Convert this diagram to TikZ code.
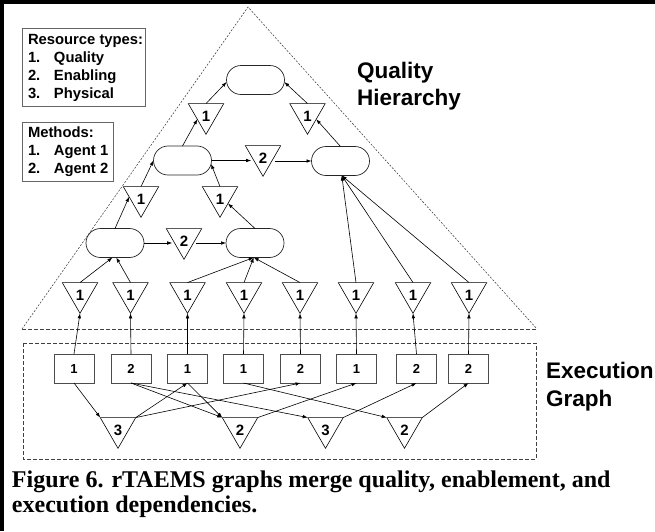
\documentclass[tikz,border=0pt]{standalone}
\usepackage{fontspec}
\setmainfont{Liberation Serif}
\newfontfamily\hvfont{Liberation Sans}
\usetikzlibrary{shapes.geometric,shapes.misc,arrows.meta,calc}

\begin{document}
\begin{tikzpicture}[x=1pt,y=-1pt,
  every node/.style={inner sep=0pt, outer sep=0pt},
  edge/.style={line width=0.6pt, draw=black, -{Latex[length=5pt,width=3.6pt]}},
  qnode/.style={rounded rectangle, draw=black!85, line width=0.7pt,
    minimum width=58pt, minimum height=29pt},
  tri/.style={regular polygon, regular polygon sides=3, shape border rotate=180,
    draw=black, line width=0.6pt, minimum size=39.3pt,
    text height=14.5pt, text depth=0pt,
    font=\hvfont\bfseries\fontsize{15}{15}\selectfont},
  mbox/.style={rectangle, draw=black!70, line width=0.8pt,
    minimum width=40pt, minimum height=29pt,
    text height=10pt, text depth=0pt,
    font=\hvfont\bfseries\fontsize{13}{13}\selectfont},
  legbox/.style={draw=black!60, line width=0.9pt},
  legtext/.style={anchor=base west, font=\hvfont\bfseries\fontsize{14.8}{17}\selectfont},
  areatext/.style={anchor=base west, font=\hvfont\bfseries\fontsize{22.5}{26}\selectfont},
  captext/.style={anchor=base west, font=\bfseries\fontsize{24}{26}\selectfont},
  finedash/.style={draw=black!80, line width=0.5pt, dash pattern=on 2pt off 1.5pt},
  boxdash/.style={draw=black!75, line width=0.6pt, dash pattern=on 4pt off 2pt}]

\useasboundingbox (0,0) rectangle (655,531);

% frame bars on the top and left edges
\fill[black] (0,0) rectangle (655,3.5);
\fill[black] (0,0) rectangle (4,531);

% quality hierarchy outline and execution graph area
\coordinate (apex) at (248,7);
\coordinate (baseL) at (22,329);
\coordinate (baseR) at (537,329);
\draw[finedash] (baseL) -- (apex) -- (baseR);
\draw[boxdash] (baseL) -- (baseR);
\draw[boxdash] (23,343) rectangle (536,459);

% legend boxes
\draw[legbox] (22,28) rectangle (145,106);
\node[legtext] (lr0) at (28,44) {Resource types:};
\node[legtext] (lr1) at (28,62) {\makebox[26pt][l]{1.}Quality};
\node[legtext] (lr2) at (28,80) {\makebox[26pt][l]{2.}Enabling};
\node[legtext] (lr3) at (28,98) {\makebox[26pt][l]{3.}Physical};
\draw[legbox] (22,122) rectangle (113,181);
\node[legtext] (lm0) at (28,137) {Methods:};
\node[legtext] (lm1) at (28,155) {\makebox[26pt][l]{1.}Agent 1};
\node[legtext] (lm2) at (28,173) {\makebox[26pt][l]{2.}Agent 2};

% area titles
\node[areatext] (qh1) at (357,78) {Quality};
\node[areatext] (qh2) at (357,105) {Hierarchy};
\node[areatext] (eg1) at (546,378) {Execution};
\node[areatext] (eg2) at (546,406) {Graph};

% caption
\node[captext] (cap1) at (12,487) {Figure 6. rTAEMS graphs merge quality, enablement, and};
\node[captext] (cap2) at (12,512) {execution dependencies.};

% quality nodes
\node[qnode] (qtop) at (255.5,80) {};
\node[qnode] (qml) at (182.5,160.5) {};
\node[qnode] (qmr) at (340.5,161) {};
\node[qnode] (qbl) at (115,243) {};
\node[qnode] (qbr) at (255,243) {};

% accumulation operators inside the hierarchy
\node[tri] (ta) at (206,113.8) {1};
\node[tri] (tb) at (307.5,113.8) {1};
\node[tri] (tm2) at (263,155.8) {2};
\node[tri] (tcl) at (141,196.8) {1};
\node[tri] (tcr) at (220,196.8) {1};
\node[tri] (tb2) at (184,238.8) {2};

% quality operators above the methods
\node[tri] (q1) at (80,292.8) {1};
\node[tri] (q2) at (130.5,292.8) {1};
\node[tri] (q3) at (187.5,292.8) {1};
\node[tri] (q4) at (244,292.8) {1};
\node[tri] (q5) at (300,292.8) {1};
\node[tri] (q6) at (356,292.8) {1};
\node[tri] (q7) at (413,292.8) {1};
\node[tri] (q8) at (469,292.8) {1};

% methods, labelled by agent
\node[mbox] (m1) at (74,368.5) {1};
\node[mbox] (m2) at (131,368.5) {2};
\node[mbox] (m3) at (187.5,368.5) {1};
\node[mbox] (m4) at (243.5,368.5) {1};
\node[mbox] (m5) at (300.5,368.5) {2};
\node[mbox] (m6) at (356.5,368.5) {1};
\node[mbox] (m7) at (416.5,368.5) {2};
\node[mbox] (m8) at (468.5,368.5) {2};

% execution resources
\node[tri] (e1) at (118,427.8) {3};
\node[tri] (e2) at (240,427.8) {2};
\node[tri] (e3) at (325.5,427.8) {3};
\node[tri] (e4) at (404.5,427.8) {2};

% hierarchy connectors
\draw[edge] (ta.north) -- (qtop.184);
\draw[edge] (tb.north) -- (qtop.-4);
\draw[edge] (qml.north) -- (ta.212);
\draw[edge] (qmr.north) -- (tb.-32);
\draw[edge] (qml.east) -- (qml.east -| tm2.west);
\draw[edge] (tm2.east |- qmr.west) -- (qmr.west);
\draw[edge] (tcl.north) -- (qml.west);
\draw[edge] (tcr.north) -- (qml.-7);
\draw[edge] (qbl.north) -- (tcl.west);
\draw[edge] (qbr.north) -- (tcr.-40);
\draw[edge] (qbl.east) -- (qbl.east -| tb2.west);
\draw[edge] (tb2.east |- qbr.west) -- (qbr.west);

\draw[edge] (q1.north) -- (qbl.260);
\draw[edge] (q2.north) -- (qbl.275);
\draw[edge] (q3.north) -- (qbr.265);
\draw[edge] (q4.north) -- (qbr.265);
\draw[edge] (q5.north) -- (qbr.265);
\draw[edge] (q6.north) -- (qmr.275);
\draw[edge] (q7.north) -- (qmr.275);
\draw[edge] (q8.north) -- (qmr.275);

% methods feed their quality operators
\foreach \i in {1,...,8}
  \draw[edge] (m\i.north) -- (q\i.corner 1);

% execution dependencies
\draw[edge] (m1.south) -- (e1.corner 3);
\draw[edge] (e1.corner 2) -- (m3.south);
\draw[edge] (e1.corner 2) -- (m5.south);
\draw[edge] (m2.south) -- (e2.corner 3);
\draw[edge] (m2.south) -- (e3.corner 3);
\draw[edge] (m3.south) -- (e2.corner 3);
\draw[edge] (e2.corner 2) -- (m6.south);
\draw[edge] (m4.south) -- (e4.corner 3);
\draw[edge] (e3.corner 2) -- (m7.south);
\draw[edge] (e4.corner 2) -- (m8.south);

\end{tikzpicture}
\end{document}
